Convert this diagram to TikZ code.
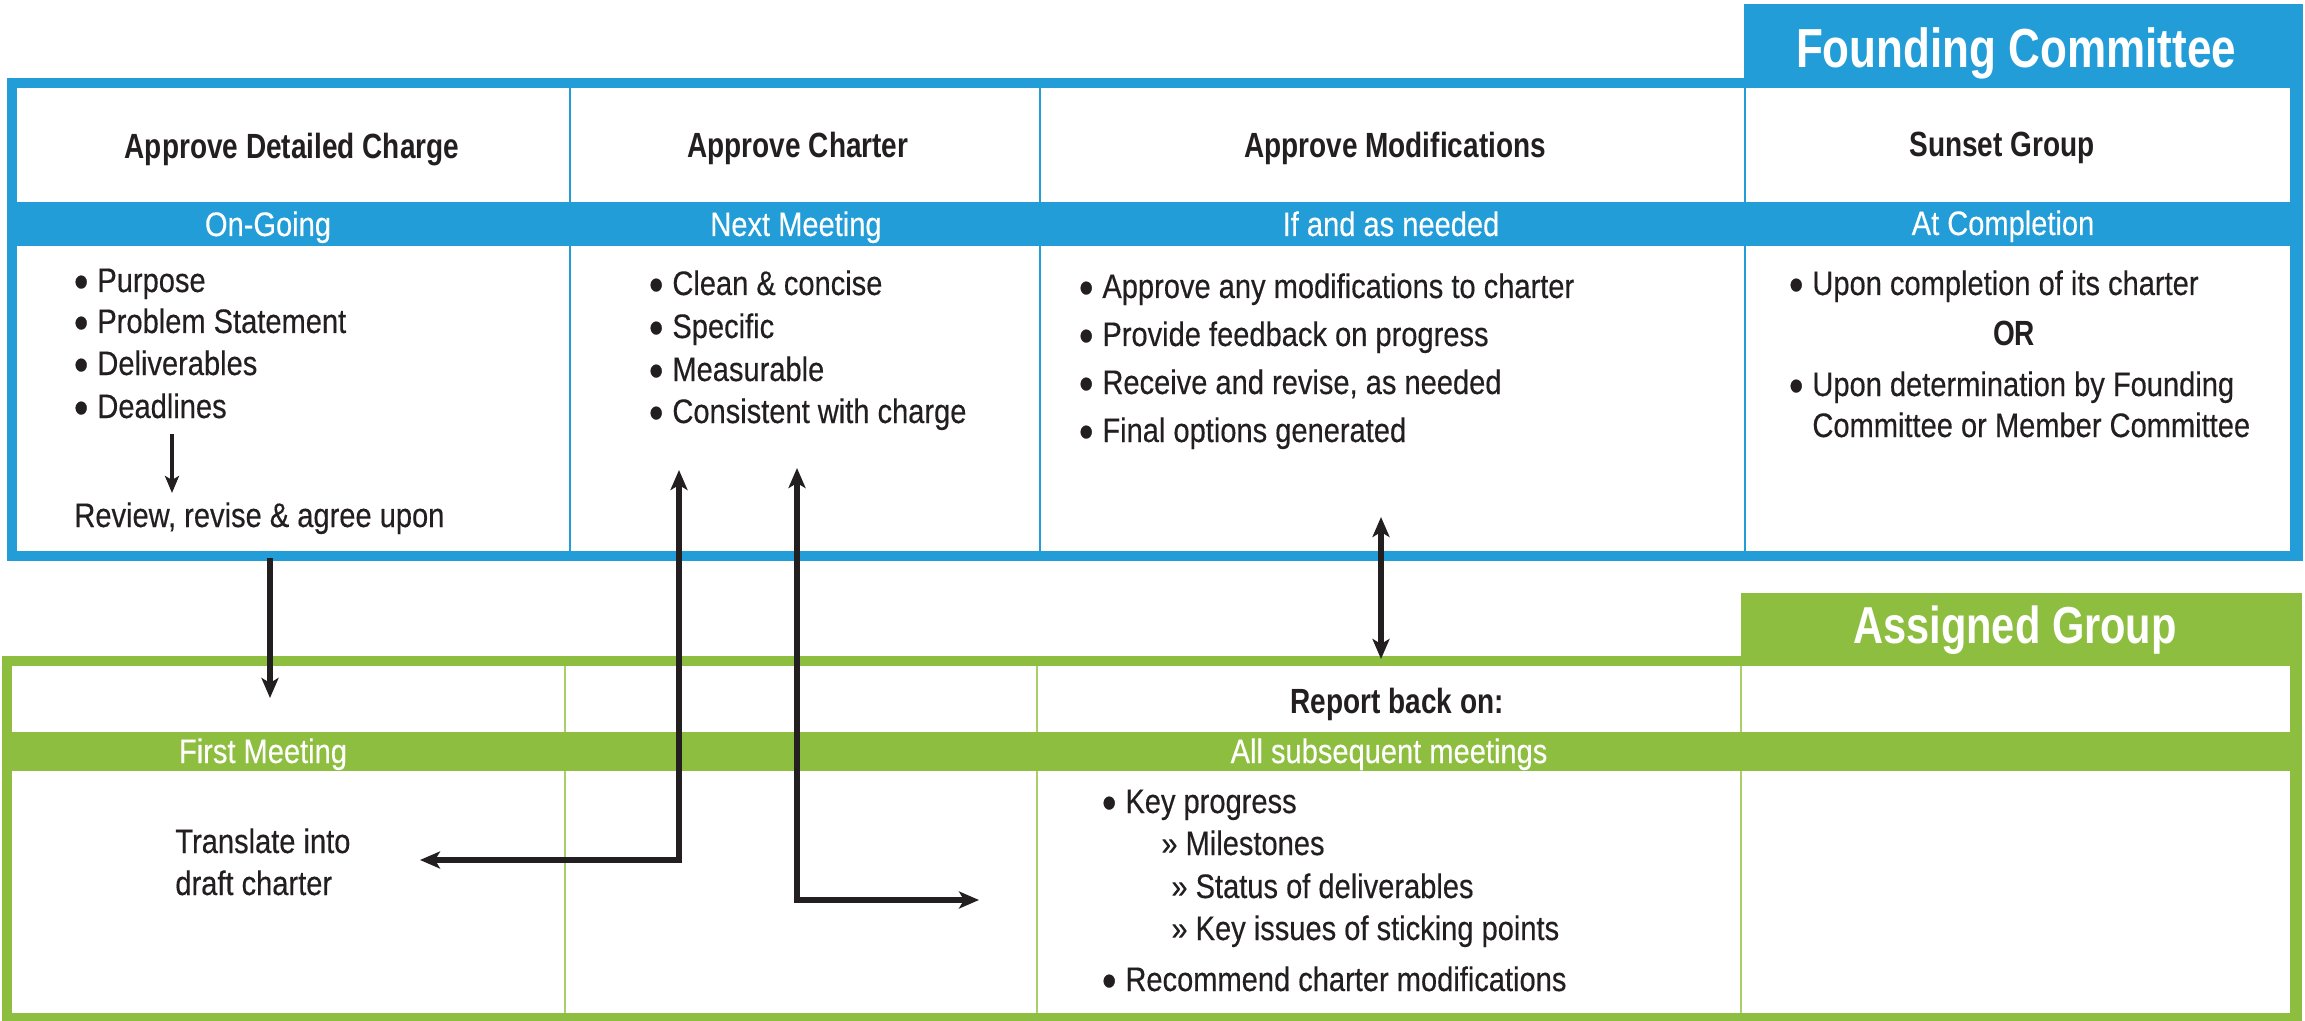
\documentclass[tikz,border=0pt]{standalone}
\usepackage{fontspec}
\usetikzlibrary{arrows.meta}
\newfontfamily\regfont{Liberation Sans}[FakeStretch=0.855,FakeBold=0.35]
\newfontfamily\boldfont{Liberation Sans}[FakeStretch=0.80]
\definecolor{fcblue}{RGB}{34,157,216}
\definecolor{aggreen}{RGB}{141,190,63}
\definecolor{aglight}{RGB}{168,208,104}
\definecolor{ink}{RGB}{35,31,32}
\newcommand\bt{\llap{\smash{\fontsize{24pt}{24pt}\selectfont\raisebox{-3pt}{\textbullet}}\hspace{4.5pt}}}
\begin{document}
\begin{tikzpicture}[x=0.5pt,y=-0.5pt,
  body/.style={inner sep=0pt, anchor=base west, text=ink, font=\regfont\fontsize{17pt}{19pt}\selectfont},
  head/.style={inner sep=0pt, anchor=base, text=ink, font=\boldfont\bfseries\fontsize{17.5pt}{20pt}\selectfont},
  bandtxt/.style={inner sep=0pt, anchor=base, text=white, font=\regfont\fontsize{17pt}{19pt}\selectfont},
  title/.style={inner sep=0pt, anchor=base, text=white, font=\boldfont\bfseries\fontsize{#1}{30pt}\selectfont},
  conn/.style={draw=ink, line width=2.7pt, -{Stealth[length=10pt,width=8.5pt,inset=2.5pt]}},
  conntwo/.style={draw=ink, line width=2.7pt, {Stealth[length=10pt,width=8.5pt,inset=2.5pt]}-{Stealth[length=10pt,width=8.5pt,inset=2.5pt]}},
  connsmall/.style={draw=ink, line width=1.7pt, -{Stealth[length=8.5pt,width=7pt,inset=2pt]}},
  bluediv/.style={draw=fcblue, line width=1pt},
  greendiv/.style={draw=aglight, line width=1pt}
]
\useasboundingbox (0,0) rectangle (2305,1021);
\fill[white] (0,0) rectangle (2305,1021);

% ---------- Founding Committee frame ----------
\fill[fcblue] (7,78) rectangle (2303,561);
\fill[fcblue] (1744,4) rectangle (2303,88);
\fill[white] (17,88) rectangle (2290,551);
\fill[fcblue] (17,202) rectangle (2290,246);
\foreach \xx in {570,1040,1745} \draw[bluediv] (\xx,88) -- (\xx,551);

\node[title=27.5pt] (fc) at (2016,68) {Founding Committee};

\node[head] (h1) at (292,159) {Approve Detailed Charge};
\node[head] (h2) at (798,158) {Approve Charter};
\node[head] (h3) at (1395,158) {Approve Modifications};
\node[head] (h4) at (2002,157) {Sunset Group};

\node[bandtxt] (b1) at (268,236) {On-Going};
\node[bandtxt] (b2) at (796,236) {Next Meeting};
\node[bandtxt] (b3) at (1391,236) {If and as needed};
\node[bandtxt] (b4) at (2003,235) {At Completion};

\node[body] (c1a) at (97,292) {\bt Purpose};
\node[body] (c1b) at (97,333) {\bt Problem Statement};
\node[body] (c1c) at (97,375) {\bt Deliverables};
\node[body] (c1d) at (97,418) {\bt Deadlines};
\node[body] (c1e) at (74,527) {Review, revise \& agree upon};

\node[body] (c2a) at (672,295) {\bt Clean \& concise};
\node[body] (c2b) at (672,338) {\bt Specific};
\node[body] (c2c) at (672,381) {\bt Measurable};
\node[body] (c2d) at (672,423) {\bt Consistent with charge};

\node[body] (c3a) at (1102,298) {\bt Approve any modifications to charter};
\node[body] (c3b) at (1102,346) {\bt Provide feedback on progress};
\node[body] (c3c) at (1102,394) {\bt Receive and revise, as needed};
\node[body] (c3d) at (1102,442) {\bt Final options generated};

\node[body] (c4a) at (1812,295) {\bt Upon completion of its charter};
\node[head] (c4or) at (2014,345) {OR};
\node[body] (c4b) at (1812,396) {\bt Upon determination by Founding};
\node[body] (c4c) at (1812,437) {Committee or Member Committee};

% ---------- Assigned Group frame ----------
\fill[aggreen] (2,656) rectangle (2302,1021);
\fill[aggreen] (1741,593) rectangle (2302,666);
\fill[white] (12,666) rectangle (2290,1013);
\fill[aggreen] (12,732) rectangle (2290,771);
\foreach \xx in {565,1037,1741} {
  \draw[greendiv] (\xx,666) -- (\xx,732);
  \draw[greendiv] (\xx,771) -- (\xx,1013);
}

\node[title=26pt] (ag) at (2015,643) {Assigned Group};
\node[head] (rb) at (1397,713) {Report back on:};
\node[bandtxt] (g1) at (263,763) {First Meeting};
\node[bandtxt] (g3) at (1389,763) {All subsequent meetings};

\node[body] (tr1) at (175,853) {Translate into};
\node[body] (tr2) at (175,895) {draft charter};

\node[body] (k1) at (1125,813) {\bt Key progress};
\node[body] (k2) at (1161,855) {» Milestones};
\node[body] (k3) at (1171,898) {» Status of deliverables};
\node[body] (k4) at (1171,940) {» Key issues of sticking points};
\node[body] (k5) at (1125,991) {\bt Recommend charter modifications};

% ---------- connectors ----------
\coordinate (s0) at (172,434);
\coordinate (e0) at (172,493);
\coordinate (s1) at (270,558);
\coordinate (e1) at (270,698);
\coordinate (t2) at (679,470);
\coordinate (l2) at (420,860);
\coordinate (t3) at (797,468);
\coordinate (r3) at (979,900);
\coordinate (t4) at (1381,517);
\coordinate (u4) at (1381,659);

\draw[connsmall] (s0) -- (e0);
\draw[conn] (s1) -- (e1);
\draw[conntwo] (t2) |- (l2);
\draw[conntwo] (t3) |- (r3);
\draw[conntwo] (t4) -- (u4);
\end{tikzpicture}
\end{document}
